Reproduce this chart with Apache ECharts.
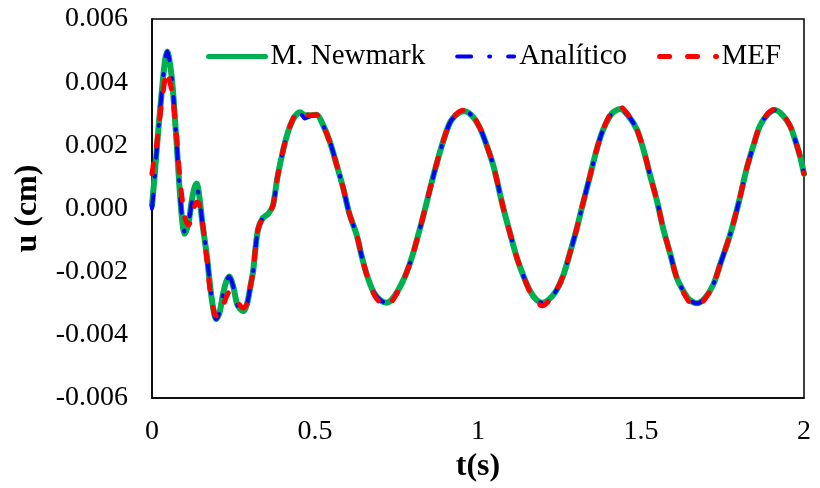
<!DOCTYPE html>
<html>
<head>
<meta charset="utf-8">
<script src="https://cdn.jsdelivr.net/npm/echarts@6/dist/echarts.min.js"></script>
<style>html,body{margin:0;padding:0;background:#fff}#c{width:820px;height:488px}</style>
</head>
<body>
<div id="c"></div>
<script>
// time (s)
var tiempo = [0, 0.007, 0.014, 0.022, 0.030, 0.040, 0.047, 0.055, 0.063, 0.070,
  0.076, 0.086, 0.095, 0.101, 0.112, 0.122, 0.130, 0.137, 0.145, 0.155,
  0.168, 0.180, 0.190, 0.196, 0.207, 0.218, 0.228, 0.237, 0.250, 0.262,
  0.280, 0.292, 0.302, 0.310, 0.318, 0.326, 0.340, 0.357, 0.371, 0.385,
  0.403, 0.418, 0.433, 0.445, 0.454, 0.469, 0.485, 0.505, 0.520, 0.546,
  0.566, 0.587, 0.605, 0.628, 0.643, 0.659, 0.680, 0.700, 0.720, 0.745,
  0.776, 0.800, 0.822, 0.838, 0.853, 0.883, 0.914, 0.940, 0.960, 0.985,
  1.006, 1.025, 1.047, 1.078, 1.100, 1.119, 1.140, 1.160, 1.180, 1.197, 1.215,
  1.240, 1.262, 1.285, 1.303, 1.318, 1.344, 1.365, 1.384, 1.410, 1.436,
  1.460, 1.487, 1.508, 1.528, 1.550, 1.568, 1.590, 1.610, 1.635, 1.650, 1.671,
  1.695, 1.722, 1.745, 1.773, 1.800, 1.824, 1.845, 1.865, 1.890, 1.911,
  1.935, 1.957, 1.975, 1.988, 2.000];

// displacement u (x 0.001 cm)
var uNewmark = [0.1, 0.9, 1.8, 2.8, 3.7, 4.7, 4.97, 4.6, 3.9, 2.9,
  2.0, 0.42, -0.6, -0.8, -0.45, 0.25, 0.65, 0.79, 0.4, -0.5,
  -1.47, -2.6, -3.3, -3.5, -3.3, -2.7, -2.3, -2.15, -2.5, -3.05,
  -3.25, -3.0, -2.45, -2.0, -1.2, -0.63, -0.3, -0.16, 0.1, 1.0,
  1.88, 2.45, 2.83, 3.0, 3.05, 2.95, 2.95, 2.97, 2.75, 2.1,
  1.4, 0.63, -0.15, -0.84, -1.5, -2.1, -2.65, -2.9, -2.98, -2.75,
  -2.15, -1.45, -0.63, 0.0, 0.63, 1.78, 2.72, 3.02, 3.08, 2.9,
  2.55, 2.05, 1.36, 0.0, -0.85, -1.55, -2.15, -2.62, -2.9, -2.98, -2.9,
  -2.6, -2.1, -1.3, -0.63, 0.0, 1.05, 1.9, 2.5, 3.0, 3.15,
  2.95, 2.51, 1.85, 1.05, 0.2, -0.63, -1.45, -2.2, -2.7, -2.9, -3.0,
  -2.85, -2.4, -1.7, -0.84, 0.2, 1.26, 2.0, 2.62, 3.0, 3.12,
  2.95, 2.62, 2.1, 1.65, 1.1];

var uAnalitico = [0.0, 0.8, 1.8, 2.8, 3.7, 4.7, 4.97, 4.6, 3.9, 2.9,
  2.0, 0.42, -0.55, -0.75, -0.45, 0.2, 0.55, 0.63, 0.35, -0.5,
  -1.47, -2.6, -3.3, -3.5, -3.3, -2.7, -2.3, -2.15, -2.5, -3.05,
  -3.25, -3.0, -2.45, -2.0, -1.2, -0.63, -0.3, -0.16, 0.1, 1.0,
  1.88, 2.45, 2.83, 3.0, 3.02, 2.85, 2.92, 2.97, 2.75, 2.1,
  1.4, 0.63, -0.15, -0.84, -1.5, -2.1, -2.65, -2.9, -2.98, -2.75,
  -2.15, -1.45, -0.63, 0.0, 0.63, 1.78, 2.72, 3.02, 3.08, 2.9,
  2.55, 2.05, 1.36, 0.0, -0.85, -1.55, -2.15, -2.62, -2.9, -2.98, -2.9,
  -2.6, -2.1, -1.3, -0.63, 0.0, 1.05, 1.9, 2.5, 3.0, 3.15,
  2.95, 2.51, 1.85, 1.05, 0.2, -0.63, -1.45, -2.2, -2.7, -2.9, -3.0,
  -2.85, -2.4, -1.7, -0.84, 0.2, 1.26, 2.0, 2.62, 3.0, 3.12,
  2.95, 2.62, 2.1, 1.65, 1.1];

var uMEF = [1.1, 1.6, 2.0, 2.7, 3.36, 4.1, 4.35, 4.0, 3.6, 2.9,
  2.2, 0.9, 0.1, -0.3, -0.52, -0.3, 0.05, 0.2, 0.15, -0.45,
  -1.6, -2.75, -3.25, -3.4, -3.4, -3.1, -2.8, -2.65, -2.7, -2.95,
  -3.15, -3.0, -2.45, -2.0, -1.2, -0.63, -0.3, -0.16, 0.1, 1.0,
  1.88, 2.45, 2.85, 3.05, 3.08, 3.0, 2.95, 2.97, 2.75, 2.1,
  1.4, 0.63, -0.15, -0.84, -1.5, -2.1, -2.7, -2.98, -3.08, -2.8,
  -2.15, -1.45, -0.63, 0.0, 0.63, 1.78, 2.72, 3.05, 3.12, 2.92,
  2.55, 2.05, 1.36, 0.0, -0.85, -1.55, -2.15, -2.65, -2.95, -3.08, -2.95,
  -2.6, -2.1, -1.3, -0.63, 0.0, 1.05, 1.9, 2.5, 3.05, 3.22,
  2.98, 2.51, 1.85, 1.05, 0.2, -0.63, -1.45, -2.2, -2.75, -2.98, -3.08,
  -2.88, -2.4, -1.7, -0.84, 0.2, 1.26, 2.0, 2.62, 3.02, 3.15,
  2.98, 2.62, 2.1, 1.65, 1.1];

var yTicks = [-0.006, -0.004, -0.002, 0.000, 0.002, 0.004, 0.006];
var xTicks = [0, 0.5, 1, 1.5, 2];
var seriesNames = ['M. Newmark', 'Analítico', 'MEF'];

function pairs(t, u) {
  return t.map(function (v, i) { return [v, u[i] * 0.001]; });
}

var FONT = 'Liberation Serif, Times New Roman, serif';
var chart = echarts.init(document.getElementById('c'), null, {renderer: 'canvas'});
chart.setOption({
  animation: false,
  backgroundColor: '#fff',
  grid: {left: 152, right: 16, top: 19, bottom: 87, show: true, borderColor: '#000', borderWidth: 1.5, backgroundColor: 'transparent'},
  legend: {
    left: 201, top: 37, itemWidth: 57, itemHeight: 14, itemGap: 30,
    data: [
      {name: seriesNames[0], itemStyle: {opacity: 0}, lineStyle: {width: 5}},
      {name: seriesNames[1], itemStyle: {opacity: 0}, lineStyle: {width: 4}},
      {name: seriesNames[2], itemStyle: {opacity: 0}, lineStyle: {width: 5}}
    ],
    itemStyle: {opacity: 0},
    textStyle: {fontFamily: FONT, fontSize: 29, color: '#000'}
  },
  xAxis: {
    type: 'value', min: xTicks[0], max: xTicks[xTicks.length - 1], interval: 0.5,
    name: 't(s)', nameLocation: 'middle', nameGap: 44,
    nameTextStyle: {fontFamily: FONT, fontSize: 32, fontWeight: 'bold', color: '#000'},
    axisLine: {show: true, onZero: false, lineStyle: {color: '#000', width: 1.5}},
    axisTick: {show: false},
    splitLine: {show: false},
    axisLabel: {fontFamily: FONT, fontSize: 28, color: '#000', margin: 20}
  },
  yAxis: {
    type: 'value', min: yTicks[0], max: yTicks[yTicks.length - 1], interval: 0.002,
    name: 'u (cm)', nameLocation: 'middle', nameGap: 108, nameRotate: 90,
    nameTextStyle: {fontFamily: FONT, fontSize: 32, fontWeight: 'bold', color: '#000'},
    axisLine: {show: true, onZero: false, lineStyle: {color: '#000', width: 1.5}},
    axisTick: {show: false},
    splitLine: {show: false},
    axisLabel: {fontFamily: FONT, fontSize: 28, color: '#000', margin: 24,
      formatter: function (v) { return v.toFixed(3); }}
  },
  series: [
    {name: seriesNames[0], type: 'line', data: pairs(tiempo, uNewmark), smooth: 0.3,
      symbol: 'none', z: 2, color: '#00B050',
      lineStyle: {color: '#00B050', width: 6, cap: 'round', join: 'round'}},
    {name: seriesNames[1], type: 'line', data: pairs(tiempo, uAnalitico), smooth: 0.3,
      symbol: 'none', z: 3, color: '#0000FF',
      lineStyle: {color: '#0000FF', width: 4, type: [14, 18, 1, 18], cap: 'round', join: 'round'}},
    {name: seriesNames[2], type: 'line', data: pairs(tiempo, uMEF), smooth: 0.3,
      symbol: 'none', z: 4, color: '#FF0000',
      lineStyle: {color: '#FF0000', width: 5, type: [10, 18], cap: 'round', join: 'round'}}
  ]
});
</script>
</body>
</html>
